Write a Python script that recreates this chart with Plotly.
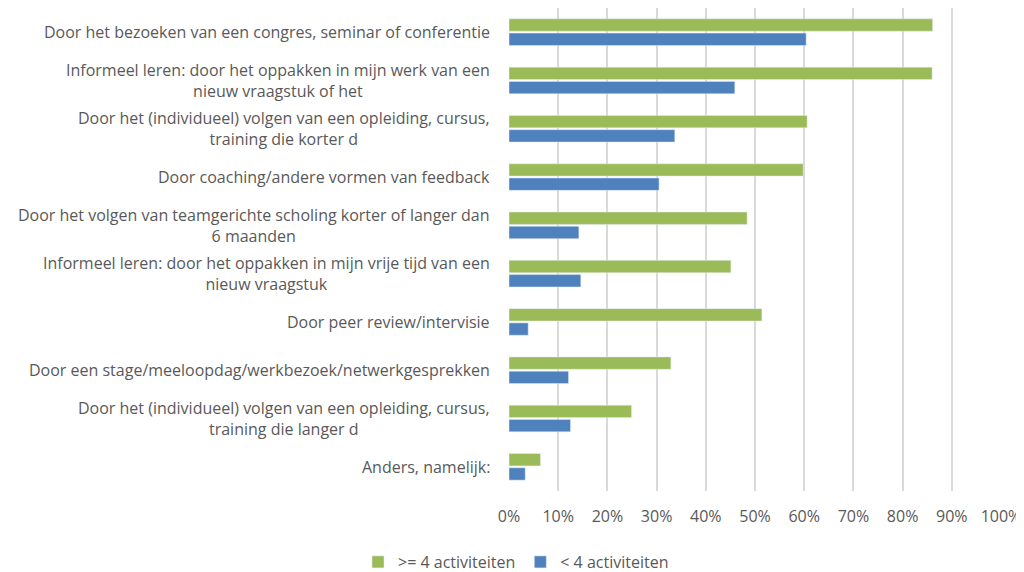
import plotly.graph_objects as go

# Categories (top to bottom) and percentages per group
categories = [
    "Door het bezoeken van een congres, seminar of conferentie",
    "Informeel leren: door het oppakken in mijn werk van een<br>nieuw vraagstuk of het",
    "Door het (individueel) volgen van een opleiding, cursus,<br>training die korter d",
    "Door coaching/andere vormen van feedback",
    "Door het volgen van teamgerichte scholing korter of langer dan<br>6 maanden",
    "Informeel leren: door het oppakken in mijn vrije tijd van een<br>nieuw vraagstuk",
    "Door peer review/intervisie",
    "Door een stage/meeloopdag/werkbezoek/netwerkgesprekken",
    "Door het (individueel) volgen van een opleiding, cursus,<br>training die langer d",
    "Anders, namelijk:",
]
ge4 = [86.1, 86.0, 60.6, 59.8, 48.4, 45.1, 51.4, 32.9, 24.9, 6.4]
lt4 = [60.4, 45.9, 33.7, 30.5, 14.2, 14.6, 3.9, 12.1, 12.5, 3.3]
x_ticks = list(range(0, 101, 10))
x_tick_text = [f"{v}%" for v in x_ticks]

FONT = "Open Sans"
TXT = "#595959"

fig = go.Figure()
fig.add_trace(go.Bar(y=categories, x=ge4, orientation="h", name=">= 4 activiteiten",
                     marker=dict(color="#9BBB59")))
fig.add_trace(go.Bar(y=categories, x=lt4, orientation="h", name="< 4 activiteiten",
                     marker=dict(color="#4F81BD")))

# Category labels as annotations so wrapped lines stay centred
for c in categories:
    fig.add_annotation(x=0, xref="paper", y=c, yref="y", text=c, showarrow=False,
                       xanchor="right", align="center", xshift=-17,
                       font=dict(family=FONT, size=16, color=TXT))

# page body has an 8px margin, so the figure is sized/offset to compensate
fig.update_layout(
    width=1016, height=564,
    margin=dict(l=501, r=23, t=0, b=81, autoexpand=False),
    paper_bgcolor="white", plot_bgcolor="white",
    barmode="group", bargap=0.41, bargroupgap=0.13,
    font=dict(family=FONT, size=16, color=TXT),
    legend=dict(orientation="h", x=0.5, xref="container", xanchor="center",
                y=-0.147, yref="paper", yanchor="middle",
                font=dict(family=FONT, size=16, color=TXT), itemwidth=30),
    xaxis=dict(range=[0, 100], tickvals=x_ticks, ticktext=x_tick_text,
               showgrid=True, gridcolor="#D9D9D9", gridwidth=1.5, automargin=False,
               zeroline=False, showline=False, ticks="", ticklabelstandoff=14,
               tickfont=dict(family=FONT, size=16, color=TXT)),
    yaxis=dict(autorange="reversed", showticklabels=False, showgrid=False,
               automargin=False,
               zeroline=False, showline=False, ticks=""),
)

fig.write_html("out.html")
